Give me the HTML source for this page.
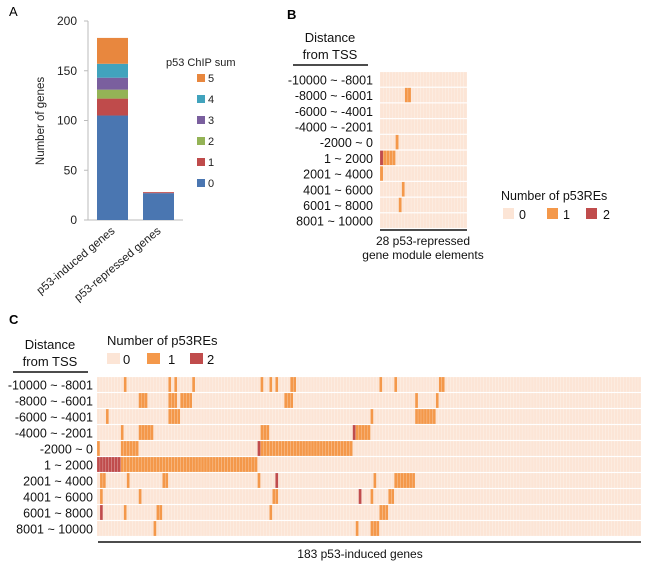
<!DOCTYPE html>
<html><head><meta charset="utf-8"><style>
html,body{margin:0;padding:0;background:#fff;}
svg{display:block;font-family:"Liberation Sans",Arial,sans-serif;}
</style></head><body>
<svg id="fig" width="650" height="574" viewBox="0 0 650 574" xmlns="http://www.w3.org/2000/svg">
<text x="9" y="16" font-size="13">A</text>
<text x="287" y="19" font-size="13" font-weight="bold">B</text>
<text x="9" y="324" font-size="13" font-weight="bold">C</text>
<g id="pa"></g>
<g id="pb"></g>
<g id="pc"></g>
</svg>
<script>
// ---- Panel A data ----
const barCategories = ["p53-induced genes", "p53-repressed  genes"];
const chipLevels = ["0","1","2","3","4","5"];
const chipColors = ["#4a76b1","#bf4b4b","#94b356","#7a5f9e","#41a3bd","#e8873e"];
const inducedCounts = [105, 17, 9, 12, 14, 26];
const repressedCounts = [27, 1, 0, 0, 0, 0];
const yTicks = [0, 50, 100, 150, 200];

// ---- Heatmap data ----
const rowLabels = ["-10000 ~ -8001","-8000 ~ -6001","-6000 ~ -4001","-4000 ~ -2001","-2000 ~ 0","1 ~ 2000","2001 ~ 4000","4001 ~ 6000","6001 ~ 8000","8001 ~ 10000"];
const heatColors = ["#fce5d6","#f4984a","#c04c4c"];
// segments: [row, startCol, endCol, value]
const repressedSegments = [[1,8,9,1],[4,5,5,1],[5,0,0,2],[5,1,4,1],[6,0,0,1],[7,7,7,1],[8,6,6,1]];
const repressedN = 28;
const inducedSegments = [
 [0,9,9,1],[0,24,24,1],[0,26,26,1],[0,32,32,1],[0,55,55,1],[0,58,58,1],[0,60,60,1],[0,65,66,1],[0,95,95,1],[0,100,100,1],[0,115,116,1],
 [1,14,16,1],[1,24,26,1],[1,28,31,1],[1,63,65,1],[1,107,107,1],[1,114,114,1],
 [2,3,3,1],[2,24,27,1],[2,92,92,1],[2,107,113,1],
 [3,8,8,1],[3,14,18,1],[3,55,57,1],[3,86,86,2],[3,87,91,1],
 [4,0,0,1],[4,8,13,1],[4,54,54,2],[4,55,85,1],
 [5,0,7,2],[5,8,53,1],
 [6,1,2,1],[6,10,10,1],[6,22,23,1],[6,54,54,1],[6,60,60,2],[6,93,93,1],[6,100,106,1],
 [7,1,1,1],[7,14,14,1],[7,59,60,1],[7,88,88,2],[7,92,92,1],[7,98,99,1],
 [8,1,1,2],[8,9,9,1],[8,20,21,1],[8,58,58,1],[8,95,97,1],
 [9,19,19,1],[9,87,87,1],[9,92,94,1]
];
const inducedN = 183;

const NS="http://www.w3.org/2000/svg";
function mk(parent, tag, attrs, text){
  const e=document.createElementNS(NS,tag);
  for(const k in attrs) e.setAttribute(k, attrs[k]);
  if(text!==undefined) e.textContent=text;
  parent.appendChild(e); return e;
}

// ---- Panel A ----
(function(){
  const g=document.getElementById('pa');
  const y0=220, y1=21, ymax=200;
  const ys=v=>y0-(v/ymax)*(y0-y1);
  const axX=88;
  let ax=mk(g,'line',{x1:axX,y1:y1,x2:axX,y2:y0,stroke:'#bbb','stroke-width':1});
  
  
  let xa=mk(g,'line',{x1:axX,y1:y0,x2:183,y2:y0,stroke:'#bbb','stroke-width':1});
  
  
  yTicks.forEach(t=>{
    const tk=mk(g,'line',{x1:axX-4,y1:ys(t),x2:axX,y2:ys(t),stroke:'#bbb'});
    
    
    const tl=mk(g,'text',{x:axX-11,y:ys(t)+4,'font-size':12,'text-anchor':'end',fill:'#222'},String(t));
    
    
  });
  const yt=mk(g,'text',{x:0,y:0,'font-size':11.5,'text-anchor':'middle',transform:'translate(44,121) rotate(-90)',fill:'#222'},'Number of genes');
  
  
  const series=[inducedCounts, repressedCounts];
  const bx=[97,143], bw=31;
  series.forEach((arr,i)=>{
    let cum=0;
    arr.forEach((v,j)=>{
      if(v<=0) return;
      const r=mk(g,'rect',{x:bx[i],y:ys(cum+v),width:bw,height:ys(cum)-ys(cum+v),fill:chipColors[j]});
      
      
      cum+=v;
    });
    const cx=bx[i]+bw/2+3;
    const lb=mk(g,'text',{x:0,y:0,'font-size':11.5,'text-anchor':'end',transform:`translate(${cx},${y0+12}) rotate(-40)`,fill:'#222'},barCategories[i]);
    
    
  });
  const lt=mk(g,'text',{x:166,y:66,'font-size':11,fill:'#222'},'p53 ChIP sum');
  
  
  for(let k=5;k>=0;k--){
    const yy=78+(5-k)*21;
    const r=mk(g,'rect',{x:197,y:yy-4,width:8,height:8,fill:chipColors[k]});
    
    
    const t=mk(g,'text',{x:208,y:yy+4,'font-size':11,fill:'#222'},chipLevels[k]);
    
    
  }
})();

function heatmap(g, segs, n, x0, x1, y0, rowH, labelX, fs){
  const cw=(x1-x0)/n;
  const grid=rowLabels.map(()=>new Array(n).fill(0));
  segs.forEach(s=>{for(let c=s[1];c<=s[2];c++) grid[s[0]][c]=s[3];});
  rowLabels.forEach((lab,r)=>{
    const t=mk(g,'text',{x:labelX,y:y0+r*rowH+rowH/2+4.5,'font-size':fs,'text-anchor':'end',fill:'#111'},lab);
    
    
    for(let c=0;c<n;c++){
      const cell=mk(g,'rect',{x:x0+c*cw,y:y0+r*rowH,width:cw,height:rowH-1,fill:heatColors[grid[r][c]],stroke:'#fff','stroke-width':0.25,'stroke-opacity':0.6});
      
      
    }
  });
}
function legend(g,x,y,boxes,labels,w,fs){
  const t=mk(g,'text',{x:x,y:y,'font-size':fs,fill:'#111'},'Number of p53REs');
  
  
  boxes.forEach((bx,i)=>{
    const r=mk(g,'rect',{x:bx,y:y+8,width:w,height:11,fill:heatColors[i]});
    
    
    const l=mk(g,'text',{x:labels[i],y:y+19,'font-size':fs,fill:'#111'},String(i));
    
    
  });
}
function distHeader(g,cx,y,x1,x2){
  const a=mk(g,'text',{x:cx,y:y,'font-size':13,'text-anchor':'middle',fill:'#111'},'Distance');
  
  
  const b=mk(g,'text',{x:cx,y:y+17,'font-size':13,'text-anchor':'middle',fill:'#111'},'from TSS');
  
  
  const l=mk(g,'line',{x1:x1,y1:y+23,x2:x2,y2:y+23,stroke:'#111','stroke-width':1.5});
  
  
}

// ---- Panel B ----
(function(){
  const g=document.getElementById('pb');
  distHeader(g,330,42,293,368);
  heatmap(g, repressedSegments, repressedN, 380, 467, 72, 15.7, 373, 12.5);
  const u=mk(g,'line',{x1:380,y1:230,x2:467,y2:230,stroke:'#111','stroke-width':1.5});
  
  
  const t1=mk(g,'text',{x:423,y:245,'font-size':12,'text-anchor':'middle',fill:'#111'},'28 p53-repressed');
  
  
  const t2=mk(g,'text',{x:423,y:259,'font-size':12,'text-anchor':'middle',fill:'#111'},'gene module elements');
  
  
  legend(g,501,200,[503,547,586],[519,563,603],11,12.5);
})();

// ---- Panel C ----
(function(){
  const g=document.getElementById('pc');
  distHeader(g,50,349,13,88);
  legend(g,107,345,[107,147,190],[123,168,207],13,13);
  heatmap(g, inducedSegments, inducedN, 97, 641, 377, 16, 93, 12.5);
  const u=mk(g,'line',{x1:98,y1:542,x2:641,y2:542,stroke:'#111','stroke-width':1.5});
  
  
  const t=mk(g,'text',{x:360,y:558,'font-size':12,'text-anchor':'middle',fill:'#111'},'183 p53-induced genes');
  
  
})();
</script>
</body></html>
